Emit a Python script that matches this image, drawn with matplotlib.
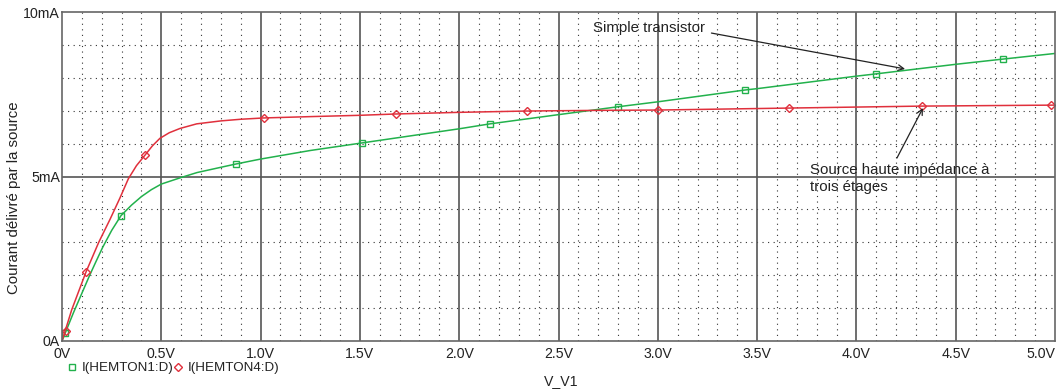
import numpy as np
import matplotlib
matplotlib.use('Agg')
import matplotlib.pyplot as plt
from matplotlib.lines import Line2D

plt.rcParams['font.family'] = ['Liberation Sans', 'DejaVu Sans']

# I(HEMTON1:D) - simple transistor (V, mA)
v_simple = [0, 0.057, 0.1, 0.138, 0.17, 0.205, 0.25, 0.297, 0.35, 0.4, 0.45, 0.5, 0.6, 0.68,
            0.8, 0.876, 1.0, 1.25, 1.51, 2.0, 2.155, 2.5, 2.8, 3.0, 3.44, 3.5, 4.0, 4.1,
            4.5, 4.74, 5.0]
i_simple = [0, 0.85, 1.45, 1.98, 2.4, 2.85, 3.36, 3.81, 4.13, 4.39, 4.6, 4.77, 4.97, 5.12,
            5.28, 5.38, 5.53, 5.79, 6.02, 6.45, 6.6, 6.88, 7.12, 7.27, 7.63, 7.67, 8.05, 8.12,
            8.41, 8.57, 8.74]
v_simple_mk = [0.015, 0.297, 0.876, 1.51, 2.155, 2.8, 3.44, 4.1, 4.74]
i_simple_mk = [0.24, 3.81, 5.38, 6.02, 6.6, 7.12, 7.63, 8.12, 8.57]

# I(HEMTON4:D) - three stage high impedance source
v_src = [0, 0.049, 0.121, 0.185, 0.242, 0.292, 0.334, 0.375, 0.418, 0.455, 0.493, 0.54,
         0.594, 0.678, 0.8, 0.9, 1.017, 1.25, 1.5, 1.68, 2.0, 2.34, 2.7, 3.0, 3.66, 4.33, 5.0]
i_src = [0, 0.95, 2.1, 3.0, 3.7, 4.35, 4.93, 5.33, 5.65, 5.93, 6.16, 6.33,
         6.46, 6.6, 6.69, 6.74, 6.78, 6.82, 6.86, 6.9, 6.95, 6.99, 7.01, 7.02, 7.08, 7.14, 7.17]
v_src_mk = [0.02, 0.121, 0.418, 1.017, 1.68, 2.34, 3.0, 3.66, 4.33, 4.98]
i_src_mk = [0.3, 2.1, 5.65, 6.78, 6.9, 6.99, 7.02, 7.08, 7.14, 7.17]

xticks = [0, 0.5, 1.0, 1.5, 2.0, 2.5, 3.0, 3.5, 4.0, 4.5, 5.0]
xlabels = ['0V', '0.5V', '1.0V', '1.5V', '2.0V', '2.5V', '3.0V', '3.5V', '4.0V', '4.5V', '5.0V']
yticks = [0, 5, 10]
ylabels = ['0A', '5mA', '10mA']

green = '#22b14c'
red = '#e0303c'
txt = '#222222'
fs = 10.8

fig = plt.figure(figsize=(10.61, 3.89), dpi=100)
ax = fig.add_axes([62/1061, 1-341/389, (1055-62)/1061, (341-12)/389])

# grid
for x in np.arange(0.1, 5.0, 0.1):
    if abs(x*2 - round(x*2)) > 1e-6:
        ax.axvline(x, color='#333333', lw=0.8, ls=(0, (1, 4)), zorder=0)
for y in range(1, 10):
    if y != 5:
        ax.axhline(y, color='#333333', lw=0.8, ls=(0, (1, 4)), zorder=0)
for x in xticks[1:-1]:
    ax.axvline(x, color='#555555', lw=1.2, zorder=0)
ax.axhline(5, color='#555555', lw=1.2, zorder=0)

ax.plot(v_simple, i_simple, color=green, lw=1.1)
ax.plot(v_simple_mk, i_simple_mk, ls='none', marker='s', ms=5, mfc='none', mec=green, mew=1)
ax.plot(v_src, i_src, color=red, lw=1.1)
ax.plot(v_src_mk, i_src_mk, ls='none', marker='D', ms=4, mfc='none', mec=red, mew=1)

ax.set_xlim(0, 5.0)
ax.set_ylim(0, 10)
ax.set_xticks(xticks)
ax.set_xticklabels(xlabels)
ax.set_yticks(yticks)
ax.set_yticklabels(ylabels)
ax.tick_params(axis='x', length=0, labelsize=10.2, colors=txt, pad=4)
ax.tick_params(axis='y', length=0, labelsize=10.2, colors=txt, pad=1.5)
ax.get_xticklabels()[-1].set_ha('right')
ax.get_xticklabels()[-1].set_x(5.0)
for s in ax.spines.values():
    s.set_color('#666666')
    s.set_linewidth(1.2)

fig.text(14/1061, 1-198/389, 'Courant délivré par la source', rotation=90,
         ha='center', va='center', fontsize=fs, color=txt)
fig.text(561/1061, 1-381/389, 'V_V1', ha='center', va='center', fontsize=10.2, color=txt)

ax.text(2.674, 9.52, 'Simple transistor', fontsize=fs, color=txt, va='center')
ax.annotate('', xy=(4.245, 8.27), xytext=(3.27, 9.36),
            arrowprops=dict(arrowstyle='->', color=txt, lw=0.9, shrinkA=0, shrinkB=0))
ax.text(3.766, 5.2, 'Source haute impédance à', fontsize=fs, color=txt, va='center')
ax.text(3.766, 4.68, 'trois étages', fontsize=fs, color=txt, va='center')
ax.annotate('', xy=(4.335, 7.08), xytext=(4.204, 5.56),
            arrowprops=dict(arrowstyle='->', color=txt, lw=0.9, shrinkA=0, shrinkB=0))

handles = [Line2D([], [], ls='none', marker='s', ms=5, mfc='none', mec=green),
           Line2D([], [], ls='none', marker='D', ms=4, mfc='none', mec=red)]
fig.legend(handles, ['I(HEMTON1:D)', 'I(HEMTON4:D)'], loc='center left',
           bbox_to_anchor=(61/1061, 1-368/389), ncol=2, frameon=False, fontsize=9.6,
           handlelength=0.7, handletextpad=0.35, columnspacing=0.0, borderpad=0,
           labelcolor=txt)

fig.savefig('out.png', dpi=100)
